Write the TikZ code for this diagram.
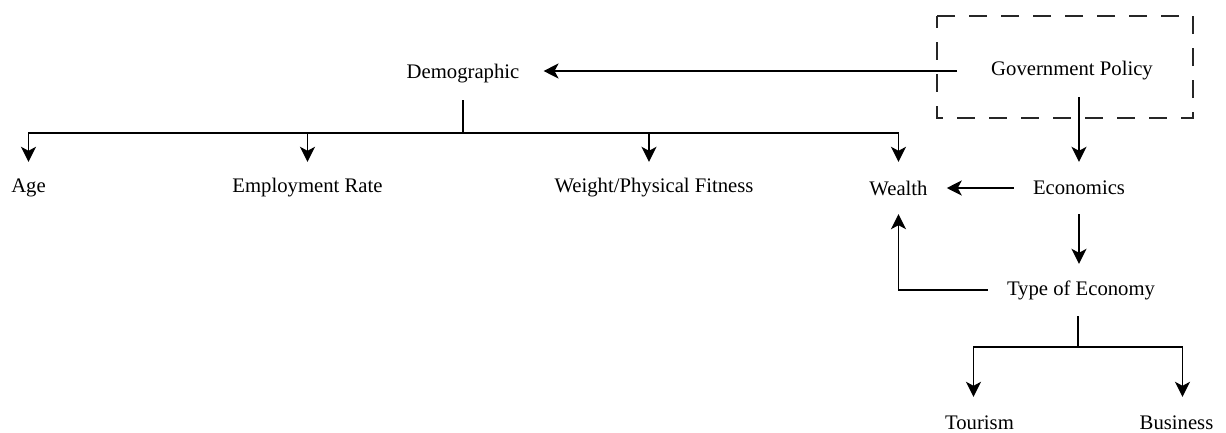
\documentclass[tikz,border=0pt]{standalone}
\usepackage{fontspec}
\setmainfont{Liberation Serif}
\usetikzlibrary{arrows.meta}
\begin{document}
\begin{tikzpicture}[x=1pt,y=-1pt,
  lbl/.style={inner xsep=19pt,inner ysep=0pt,minimum height=52pt,
    font=\fontsize{20.7}{24}\selectfont},
  conn/.style={line width=1.8pt,black},
  arr/.style={conn,-{Stealth[length=15pt,width=15pt,inset=4pt]}},
  policybox/.style={draw=black!85,line width=1.4pt,dash pattern=on 18pt off 14pt,dash phase=6pt}]
\useasboundingbox (0,0) rectangle (1226,432);
% policy frame
\draw[policybox] (937,16) rectangle (1193,118);
% labels
\node[lbl,inner xsep=34pt] (gp) at (1072,71) {Government Policy};
\node[lbl,inner xsep=24pt] (demo) at (463,74) {Demographic};
\node[lbl] (age) at (28.5,188) {Age};
\node[lbl] (emp) at (307.5,188) {Employment Rate};
\node[lbl] (weight) at (654,188) {Weight/Physical Fitness};
\node[lbl] (wealth) at (898.5,188) {Wealth};
\node[lbl] (econ) at (1079,188) {Economics};
\node[lbl] (toe) at (1081,290) {Type of Economy};
\node[lbl] (tour) at (979.5,423) {Tourism};
\node[lbl] (bus) at (1176.5,423) {Business};
% junction points
\coordinate (dbar) at (463,133);
\coordinate (tbar) at (1078,347);
% connectors
\draw[arr] (gp.west) -- (gp.west -| demo.east);
\draw[conn] (demo.south) -- (dbar);
\draw[arr] (dbar) -| (age.north);
\draw[arr] (dbar) -| (emp.north);
\draw[arr] (dbar) -| ([xshift=-5pt]weight.north);
\draw[arr] (dbar) -| (wealth.north);
\draw[arr] (gp.south -| econ.north) -- (econ.north);
\draw[arr] (econ.west) -- (wealth.east);
\draw[arr] (econ.south) -- (econ.south |- toe.north);
\draw[arr] (toe.west) -| (wealth.south);
\draw[conn] (toe.south -| tbar) -- (tbar);
\draw[arr] (tbar) -| ([xshift=-6pt]tour.north);
\draw[arr] (tbar) -| ([xshift=6pt]bus.north);
\end{tikzpicture}
\end{document}
